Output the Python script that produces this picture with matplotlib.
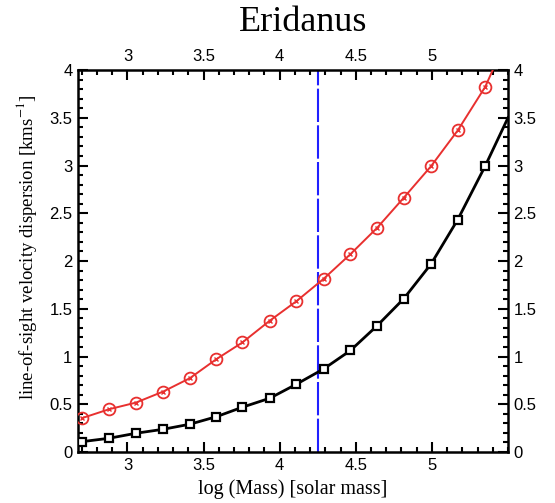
import numpy as np
import matplotlib
matplotlib.use('Agg')
import matplotlib.pyplot as plt
from matplotlib.ticker import MultipleLocator, FixedLocator

plt.rcParams['font.family'] = ['Liberation Sans', 'DejaVu Sans']
plt.rcParams['mathtext.fontset'] = 'stix'

# log mass of each model point
log_mass = [2.70, 2.88, 3.055, 3.235, 3.41, 3.585, 3.755, 3.935,
            4.11, 4.29, 4.465, 4.64, 4.815, 4.995, 5.17, 5.35]
# velocity dispersion, two model families
sigma_red = [0.354, 0.448, 0.517, 0.633, 0.773, 0.973, 1.147, 1.375,
             1.579, 1.815, 2.072, 2.347, 2.662, 2.994, 3.368, 3.823]
sigma_black = [0.108, 0.144, 0.196, 0.238, 0.291, 0.370, 0.469, 0.563,
               0.710, 0.871, 1.063, 1.322, 1.605, 1.970, 2.434, 2.994]
# where each curve leaves the frame
red_end = (5.40, 4.0)
black_end = (5.50, 3.50)
mass_line = 4.25

xticks = [3, 3.5, 4, 4.5, 5]
title = 'Eridanus'
xlab = 'log (Mass) [solar mass]'
ylab = 'line-of-sight velocity dispersion [kms$^{-1}$]'

fig = plt.figure(figsize=(5.55, 5.03), dpi=100)
ax = fig.add_axes([0.1405, 0.1014, 0.7748, 0.7594])

xr = list(log_mass) + [red_end[0]]
yr = list(sigma_red) + [red_end[1]]
xb = list(log_mass) + [black_end[0]]
yb = list(sigma_black) + [black_end[1]]

ax.plot(xb, yb, '-', color='black', lw=2.0, zorder=3)
ax.plot(log_mass, sigma_black, 's', ms=5.5, mfc='white', mec='black', mew=1.6, zorder=4)

ax.plot(xr, yr, '-', color='#e8302f', lw=1.4, zorder=3)
ax.plot(log_mass, sigma_red, 'o', ms=8.5, mfc='none', mec='#e8302f', mew=1.3, zorder=4)
ax.plot(log_mass, sigma_red, 'x', ms=3.5, color='#e8302f', mew=1.0, zorder=4)

vl, = ax.plot([mass_line, mass_line], [0, 4], color='#2020ff', lw=1.5, zorder=2)
vl.set_dashes((16, 1.6))

ax.set_xlim(2.675, 5.5)
ax.set_ylim(0, 4)
ax.xaxis.set_major_locator(FixedLocator(xticks))
ax.xaxis.set_minor_locator(MultipleLocator(0.1))
ax.yaxis.set_major_locator(MultipleLocator(0.5))
ax.yaxis.set_minor_locator(MultipleLocator(0.1))
ax.xaxis.set_major_formatter(plt.FuncFormatter(lambda v, p: '%g' % v))
ax.yaxis.set_major_formatter(plt.FuncFormatter(lambda v, p: '%g' % v))

ax.tick_params(which='both', direction='in', top=True, right=True,
               labeltop=True, labelright=True, width=1.5, labelsize=12, pad=4)
ax.tick_params(which='major', length=7)
ax.tick_params(which='minor', length=3.5)
for s in ax.spines.values():
    s.set_linewidth(1.8)

ax.set_xlabel(xlab, family='Liberation Serif', fontsize=14.5, labelpad=5)
ax.set_ylabel(ylab, family='Liberation Serif', fontsize=13.5, labelpad=1)
ax.yaxis.set_label_coords(-0.09, 0.535)
fig.text(0.546, 0.955, title, family='Liberation Serif', fontsize=26,
         ha='center', va='center')

fig.savefig('out.png', dpi=100)
